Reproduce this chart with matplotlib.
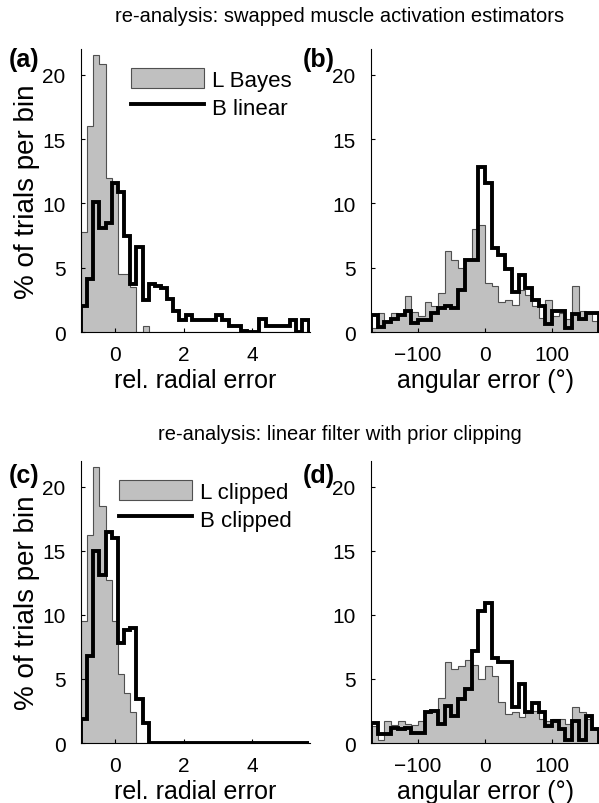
import numpy as np
import matplotlib
matplotlib.use('Agg')
import matplotlib.pyplot as plt

plt.rcParams['font.family'] = ['Liberation Sans', 'DejaVu Sans']

# bin edges
rad_edges = -1 + 0.18 * np.arange(38)        # rel. radial error
ang_edges = np.arange(-170, 171, 10)          # angular error (deg)

# (a) swapped estimators, radial
a_L_bayes = [7.8, 16.0, 21.5, 20.8, 12.0, 11.5, 4.5, 4.5, 3.5, 0, 0.5, 0, 0,
             0, 0, 0, 0, 0, 0, 0, 0, 0, 0, 0, 0, 0, 0, 0, 0, 0, 0, 0, 0, 0, 0, 0, 0]
a_B_linear = [2.0, 4.1, 10.1, 8.1, 8.5, 11.6, 10.9, 7.5, 3.7, 6.6, 2.5, 3.75, 3.6,
              3.4, 2.6, 1.6, 0.93, 1.3, 0.93, 0.93, 0.93, 0.93, 1.3, 0.9, 0.5, 0.5,
              0.1, 0, 0, 1.0, 0.5, 0.5, 0.5, 0.5, 0.9, 0, 0.9]

# (b) swapped estimators, angular
b_L_bayes = [0.3, 1.5, 0.85, 1.5, 1.3, 2.8, 1.55, 1.25, 2.3, 2.0, 3.05, 6.3, 5.6,
             5.0, 5.6, 8.0, 8.3, 3.8, 3.6, 2.3, 2.5, 2.1, 3.3, 2.9, 2.0, 1.1, 2.5,
             1.25, 1.5, 1.0, 3.6, 1.6, 1.5, 0.85]
b_B_linear = [1.3, 0.4, 0.75, 1.0, 1.3, 1.6, 0.7, 0.9, 0.9, 1.5, 1.9, 2.05, 1.9,
              3.3, 5.6, 5.6, 12.8, 11.6, 6.5, 6.0, 4.9, 3.1, 4.4, 3.4, 2.5, 2.0,
              0.6, 1.6, 1.6, 0.3, 1.4, 1.0, 1.5, 1.5]

# (c) prior clipping, radial
c_L_clipped = [9.5, 16.2, 21.5, 18.5, 12.7, 9.5, 5.4, 3.9, 2.4] + [0] * 28
c_B_clipped = [1.9, 6.8, 15.0, 13.1, 16.5, 16.0, 7.8, 8.8, 9.0, 3.4, 1.55] + [0] * 26

# (d) prior clipping, angular
d_L_clipped = [1.35, 0.25, 1.75, 1.4, 1.75, 1.5, 1.4, 1.75, 2.5, 2.5, 3.5, 6.3,
               5.75, 6.0, 6.5, 6.1, 5.0, 6.0, 5.2, 3.2, 2.3, 2.4, 2.0, 2.5, 2.5,
               1.85, 1.75, 1.85, 1.85, 1.5, 2.8, 2.4, 1.85, 1.1]
d_B_clipped = [1.55, 0.7, 0.7, 1.2, 1.1, 1.2, 0.8, 0.8, 2.4, 2.5, 1.5, 2.85, 2.1,
               3.4, 4.2, 7.2, 10.3, 10.9, 6.6, 6.3, 6.3, 2.8, 4.6, 2.4, 3.1, 2.4,
               1.35, 1.75, 1.1, 0.2, 1.75, 0.2, 2.1, 1.1]

fig = plt.figure(figsize=(5.99, 8.04), dpi=100)

ax_a = fig.add_axes([0.1352, 0.5858, 0.3823, 0.3520])
ax_b = fig.add_axes([0.6194, 0.5858, 0.3806, 0.3520])
ax_c = fig.add_axes([0.1352, 0.0746, 0.3823, 0.3507])
ax_d = fig.add_axes([0.6194, 0.0746, 0.3806, 0.3507])

gray = '#c0c0c0'


def panel(ax, edges, gvals, bvals, xlim, xticks, xlabel, glab=None, blab=None):
    ax.stairs(gvals, edges, fill=True, facecolor=gray, edgecolor='#505050',
              lw=0.8, label=glab)
    ax.stairs(bvals, edges, color='black', lw=2.8, baseline=0, label=blab)
    ax.set_xlim(*xlim)
    ax.set_ylim(0, 22)
    ax.set_yticks([0, 5, 10, 15, 20])
    ax.set_xticks(xticks)
    ax.set_xticklabels([str(t).replace('-', '\u2212') for t in xticks])
    ax.tick_params(direction='in', length=3, labelsize=15, pad=9)
    ax.tick_params(axis='y', pad=11)
    for s in ['top', 'right']:
        ax.spines[s].set_visible(False)
    ax.set_xlabel(xlabel, fontsize=18, labelpad=3)


panel(ax_a, rad_edges, a_L_bayes, a_B_linear, (-1, 5.7), [0, 2, 4],
      'rel. radial error', 'L Bayes', 'B linear')
panel(ax_b, ang_edges, b_L_bayes, b_B_linear, (-170, 170), [-100, 0, 100],
      'angular error (°)')
panel(ax_c, rad_edges, c_L_clipped, c_B_clipped, (-1, 5.7), [0, 2, 4],
      'rel. radial error', 'L clipped', 'B clipped')
panel(ax_d, ang_edges, d_L_clipped, d_B_clipped, (-170, 170), [-100, 0, 100],
      'angular error (°)')

ax_a.set_ylabel('% of trials per bin', fontsize=20, labelpad=2)
ax_c.set_ylabel('% of trials per bin', fontsize=20, labelpad=2)

for ax, lx in ((ax_a, 0.179), (ax_c, 0.127)):
    h, l = ax.get_legend_handles_labels()
    ax.legend(h, l, loc='upper left', bbox_to_anchor=(lx, 0.964),
              frameon=False, fontsize=16, handlelength=3.3, handleheight=1.0,
              handletextpad=0.35, labelspacing=0.25, borderaxespad=0)

fig.text(0.5676, 0.979, 're-analysis: swapped muscle activation estimators',
         ha='center', va='center', fontsize=14.5)
fig.text(0.5676, 0.459, 're-analysis: linear filter with prior clipping',
         ha='center', va='center', fontsize=14.5)

for lab, x, y in [('(a)', 0.015, 0.925), ('(b)', 0.505, 0.925),
                  ('(c)', 0.015, 0.408), ('(d)', 0.505, 0.408)]:
    fig.text(x, y, lab, fontsize=18, fontweight='bold', va='center')

fig.savefig('out.png', dpi=100)
